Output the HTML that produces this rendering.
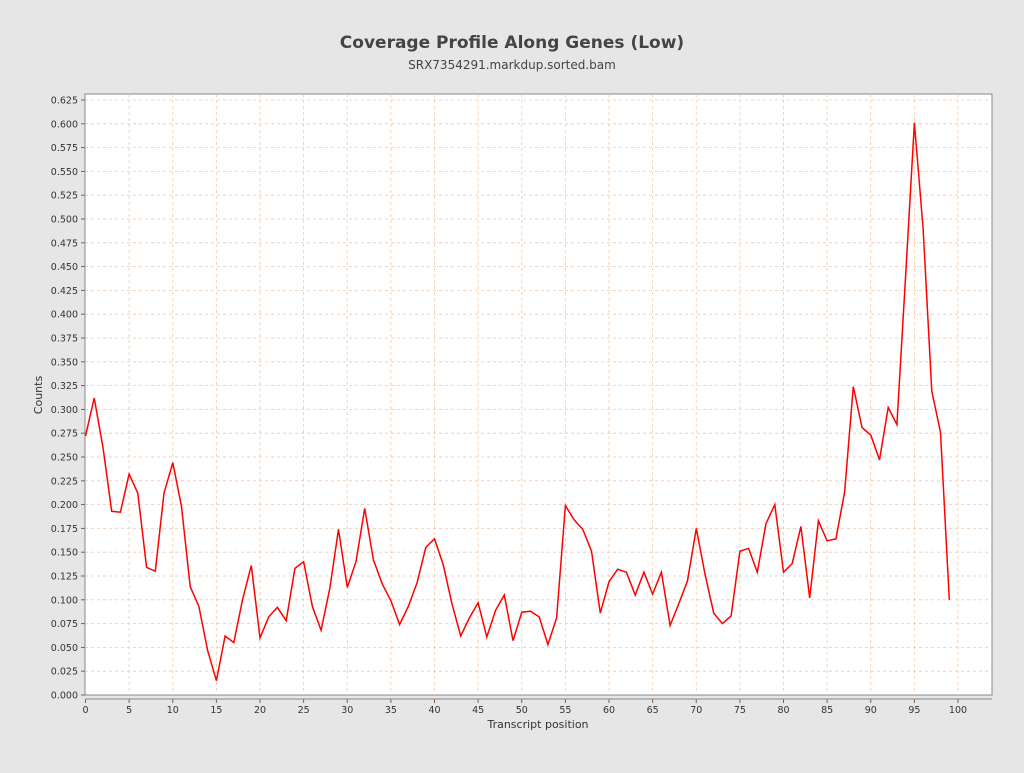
<!DOCTYPE html>
<html><head><meta charset="utf-8"><style>
body{margin:0;background:#e6e6e6;width:1024px;height:768px;overflow:hidden;font-family:"Liberation Sans","DejaVu Sans",sans-serif}
</style></head><body>
<svg id="s" width="1024" height="768" xmlns="http://www.w3.org/2000/svg" font-family="DejaVu Sans, Liberation Sans, sans-serif">
<text x="512" y="48" text-anchor="middle" font-size="17" font-weight="bold" fill="#444">Coverage Profile Along Genes (Low)</text>
<text x="512" y="69" text-anchor="middle" font-size="12" fill="#444">SRX7354291.markdup.sorted.bam</text>
<rect x="85" y="94" width="907" height="601" fill="#fff" stroke="#888"/>
<g id="g"></g>
<text x="538" y="728" text-anchor="middle" font-size="11" fill="#333">Transcript position</text>
<text transform="translate(42,395) rotate(-90)" text-anchor="middle" font-size="11" fill="#333">Counts</text>
</svg>
<script>
var d=[0.272,0.312,0.26,0.193,0.192,0.232,0.212,0.134,0.130,0.212,0.244,0.198,0.114,0.093,0.047,0.015,0.062,0.055,0.100,0.136,0.060,0.082,0.092,0.078,0.133,0.140,0.093,0.068,0.112,0.174,0.113,0.140,0.196,0.142,0.117,0.099,0.074,0.093,0.118,0.155,0.164,0.137,0.096,0.062,0.081,0.097,0.061,0.089,0.105,0.057,0.087,0.088,0.082,0.053,0.081,0.199,0.184,0.174,0.151,0.086,0.119,0.132,0.129,0.105,0.129,0.106,0.129,0.073,0.096,0.120,0.175,0.127,0.086,0.075,0.083,0.151,0.154,0.129,0.180,0.200,0.129,0.138,0.177,0.102,0.183,0.162,0.164,0.213,0.324,0.281,0.273,0.247,0.302,0.284,0.44,0.601,0.49,0.319,0.276,0.1];
function X(v){return 85.5+v*8.725}function Y(v){return 695-v*952}
var h='';
for(var i=0;i<=25;i++){var v=i*0.025,y=Y(v);
if(i>0)h+='<line x1="85" x2="992" y1="'+y+'" y2="'+y+'" stroke="#f0c8a8" stroke-dasharray="3,3" stroke-width="0.8"/>';
h+='<line x1="81" x2="85" y1="'+y+'" y2="'+y+'" stroke="#666"/>';
h+='<text x="78" y="'+(y+3.5)+'" text-anchor="end" font-size="9.5" fill="#333">'+v.toFixed(3)+'</text>';}
for(var i=0;i<=100;i+=5){var x=X(i);
if(i>0)h+='<line y1="94" y2="695" x1="'+x+'" x2="'+x+'" stroke="#f0c8a8" stroke-dasharray="3,3" stroke-width="0.8"/>';
h+='<line y1="699" y2="703" x1="'+x+'" x2="'+x+'" stroke="#666"/>';
h+='<text x="'+x+'" y="713" text-anchor="middle" font-size="9.5" fill="#333">'+i+'</text>';}
h+='<line x1="85" x2="992" y1="699" y2="699" stroke="#888"/>';
h+='<polyline fill="none" stroke="#f00" stroke-width="1.5" points="'+d.map(function(v,i){return X(i).toFixed(1)+','+Y(v).toFixed(1)}).join(' ')+'"/>';
document.getElementById('g').innerHTML=h;
</script>
</body></html>
